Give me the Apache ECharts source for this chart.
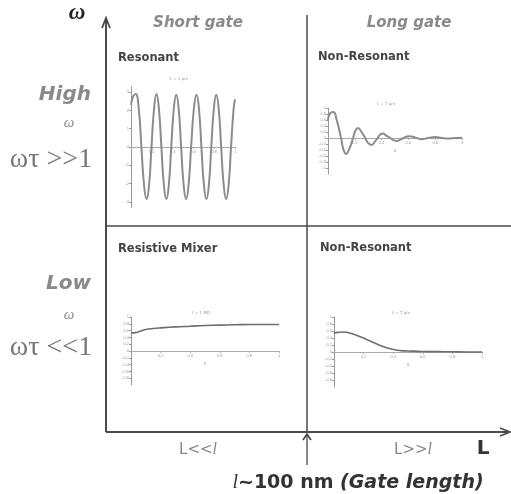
<!DOCTYPE html>
<html>
<head>
<meta charset="utf-8">
<script src="https://cdn.jsdelivr.net/npm/echarts@6/dist/echarts.min.js"></script>
<style>
html, body { margin: 0; padding: 0; background: #fff; }
#chart { width: 511px; height: 494px; }
</style>
</head>
<body>
<div id="chart"></div>
<script>
// short gate, high omega: resonant oscillation
const resX = [0, 0.02, 0.045, 0.075, 0.1, 0.125, 0.15, 0.174, 0.197, 0.221, 0.245, 0.269, 0.292, 0.316, 0.34, 0.364,
  0.387, 0.411, 0.435, 0.459, 0.482, 0.506, 0.53, 0.554, 0.578, 0.604, 0.63, 0.654, 0.677, 0.701, 0.725, 0.749,
  0.772, 0.796, 0.82, 0.844, 0.867, 0.891, 0.915, 0.939, 0.962, 0.986, 1]
const resY = [2.3, 2.75, 2.9, 2.05, 0, -2.05, -2.85, -2.05, 0, 2.05, 2.9, 2.05, 0, -2.05, -2.85, -2.05,
  0, 2.05, 2.85, 2.05, 0, -2.05, -2.85, -2.05, 0, 2.05, 2.85, 2.05, 0, -2.05, -2.85, -2.05,
  0, 2.05, 2.85, 2.05, 0, -2.05, -2.85, -2.05, 0, 2.05, 2.6]

// long gate, high omega: damped
const dampX = [0, 0.015, 0.04, 0.065, 0.097, 0.115, 0.135, 0.16, 0.187, 0.205, 0.225, 0.25, 0.278, 0.3, 0.325, 0.35,
  0.37, 0.39, 0.41, 0.435, 0.465, 0.49, 0.515, 0.54, 0.565, 0.59, 0.61, 0.66, 0.7, 0.75, 0.8, 0.85, 0.9, 0.95, 1]
const dampY = [0.6, 0.82, 0.87, 0.6, 0, -0.38, -0.53, -0.35, 0, 0.25, 0.33, 0.2, 0, -0.17, -0.23, -0.12,
  0, 0.12, 0.15, 0.08, 0, -0.07, -0.1, -0.05, 0, 0.05, 0.06, 0, -0.04, 0, 0.03, 0, -0.015, 0, 0.01]

// short gate, low omega: resistive mixer
const mixX = [0, 0.03, 0.06, 0.1, 0.15, 0.2, 0.3, 0.4, 0.5, 0.6, 0.7, 0.8, 0.9, 1]
const mixY = [0.53, 0.54, 0.58, 0.63, 0.66, 0.68, 0.71, 0.73, 0.75, 0.76, 0.77, 0.78, 0.78, 0.78]

// long gate, low omega
const lowX = [0, 0.03, 0.07, 0.1, 0.15, 0.2, 0.25, 0.3, 0.35, 0.4, 0.45, 0.5, 0.6, 0.7, 0.8, 0.9, 1]
const lowY = [0.54, 0.56, 0.57, 0.55, 0.48, 0.4, 0.3, 0.21, 0.13, 0.07, 0.04, 0.03, 0.015, 0.01, 0.005, 0, 0]

const panelTitles = ['Resonant', 'Non-Resonant', 'Resistive Mixer', 'Non-Resonant']
const panelCaptions = ['L = 1 µm', 'L = 7 µm', 't = 1 MΩ', 'L = 7 µm']
const gateLabels = ['Short gate', 'Long gate']

const pairs = (xs, ys) => xs.map((x, i) => [x, ys[i]])

const chart = echarts.init(document.getElementById('chart'))

const grids = [
  { left: 131, top: 86.6, width: 104, height: 120.8 },
  { left: 328, top: 108, width: 134, height: 66 },
  { left: 131, top: 317, width: 148, height: 68 },
  { left: 334, top: 317, width: 148, height: 70 }
]
const yRanges = [[-3.3, 3.3, null], [-1.2, 1, 0.2], [-1, 1, 0.2], [-1, 1, 0.2]]

// distance from the grid bottom up to the zero line, so x labels sit on it
const zeroDist = grids.map((g, i) => g.height * (0 - yRanges[i][0]) / (yRanges[i][1] - yRanges[i][0]))

const tinyLabel = { fontSize: 4, color: '#999' }

const xAxes = grids.map((g, i) => ({
  gridIndex: i,
  type: 'value',
  min: 0,
  max: 1,
  interval: 0.2,
  axisLine: { onZero: true, lineStyle: { color: '#aaa', width: 1 } },
  axisTick: { length: 2, lineStyle: { color: '#aaa' } },
  axisLabel: Object.assign({ showMinLabel: false, margin: 3 - zeroDist[i] }, tinyLabel),
  splitLine: { show: false },
  name: i == 0 ? '' : 'x',
  nameLocation: 'middle',
  nameGap: 10 - zeroDist[i],
  nameTextStyle: { fontSize: 5, color: '#999' }
}))

const yAxes = yRanges.map((r, i) => {
  const ax = {
    gridIndex: i,
    type: 'value',
    min: r[0],
    max: r[1],
    axisLine: { show: true, lineStyle: { color: '#999', width: 1 } },
    axisTick: { show: true, length: 2, lineStyle: { color: '#999' } },
    axisLabel: Object.assign({ showMinLabel: false, showMaxLabel: i != 0, margin: 2 }, tinyLabel),
    splitLine: { show: false }
  }
  if (r[2]) ax.interval = r[2]
  else ax.splitNumber = 6
  return ax
})

const curveData = [pairs(resX, resY), pairs(dampX, dampY), pairs(mixX, mixY), pairs(lowX, lowY)]
const series = curveData.map((d, i) => ({
  type: 'line',
  xAxisIndex: i,
  yAxisIndex: i,
  data: d,
  smooth: 0.5,
  symbol: 'none',
  lineStyle: { color: i < 2 ? '#8c8c8c' : '#6e6e6e', width: i < 2 ? 2 : 1.6 }
}))

const stroke = { stroke: '#4a4a4a', lineWidth: 1.8 }
const line = (x1, y1, x2, y2, w) => ({
  type: 'line', shape: { x1, y1, x2, y2 }, style: Object.assign({}, stroke, w ? { lineWidth: w } : {})
})
const head = (pts) => ({ type: 'polyline', shape: { points: pts }, style: Object.assign({}, stroke, { fill: null }) })
const txt = (text, x, y, font, fill, align, extra) => ({
  type: 'text',
  x, y,
  style: Object.assign({ text, font, fill, align: align || 'center', verticalAlign: 'middle' }, extra || {})
})

const gray = '#8a8a8a'
const sans = '"DejaVu Sans", sans-serif'
const serif = '"Liberation Serif", "DejaVu Serif", serif'
const italicL = { i: { fontFamily: serif, fontStyle: 'italic', fontSize: 16, fill: '#888' } }

const graphic = [
  // frame axes and dividers
  line(106, 20, 106, 432, 2),
  head([[102, 28], [106, 18], [110, 28]]),
  line(106, 432, 508, 432, 2),
  head([[500, 428], [510, 432], [500, 436]]),
  line(307, 15, 307, 432, 1.5),
  line(106, 226, 511, 226, 1.5),
  line(307, 434, 307, 465, 1.3),
  head([[303, 440], [307, 434], [311, 440]]),

  txt('ω', 77, 13, 'italic bold 23px ' + serif, '#222'),
  txt(gateLabels[0], 198, 23, 'italic bold 15px ' + sans, gray),
  txt(gateLabels[1], 409, 23, 'italic bold 15px ' + sans, gray),

  txt(panelTitles[0], 118, 58, 'bold 11.5px ' + sans, '#444', 'left'),
  txt(panelTitles[1], 318, 57, 'bold 11.5px ' + sans, '#444', 'left'),
  txt(panelTitles[2], 118, 249, 'bold 11.5px ' + sans, '#444', 'left'),
  txt(panelTitles[3], 320, 248, 'bold 11.5px ' + sans, '#444', 'left'),

  txt(panelCaptions[0], 179, 79, '4px ' + sans, '#999'),
  txt(panelCaptions[1], 386, 104, '4px ' + sans, '#999'),
  txt(panelCaptions[2], 201, 313, '4px ' + sans, '#999'),
  txt(panelCaptions[3], 401, 313, '4px ' + sans, '#999'),

  txt('High', 91, 95, 'italic bold 20px ' + sans, gray, 'right'),
  txt('ω', 69, 123, 'italic 15px ' + serif, gray),
  txt('ωτ >>1', 51, 160, '28px ' + serif, '#777'),
  txt('Low', 91, 284, 'italic bold 20px ' + sans, gray, 'right'),
  txt('ω', 69, 315, 'italic 15px ' + serif, gray),
  txt('ωτ <<1', 51, 348, '28px ' + serif, '#777'),

  txt('L<<{i|l}', 198, 450, '15px ' + sans, '#888', 'center', { rich: italicL }),
  txt('L>>{i|l}', 413, 450, '15px ' + sans, '#888', 'center', { rich: italicL }),
  txt('L', 483, 449, 'bold 20px ' + sans, '#333'),
  txt('{i|l}~100 nm {g|(Gate length)}', 358, 483, 'bold 19px ' + sans, '#333', 'center',
    { rich: {
      i: { fontFamily: serif, fontStyle: 'italic', fontSize: 20, fill: '#333' },
      g: { fontFamily: sans, fontStyle: 'italic', fontWeight: 'bold', fontSize: 19, fill: '#333' }
    } })
]

chart.setOption({
  backgroundColor: '#fff',
  animation: false,
  grid: grids,
  xAxis: xAxes,
  yAxis: yAxes,
  series: series,
  graphic: graphic
})
</script>
</body>
</html>
